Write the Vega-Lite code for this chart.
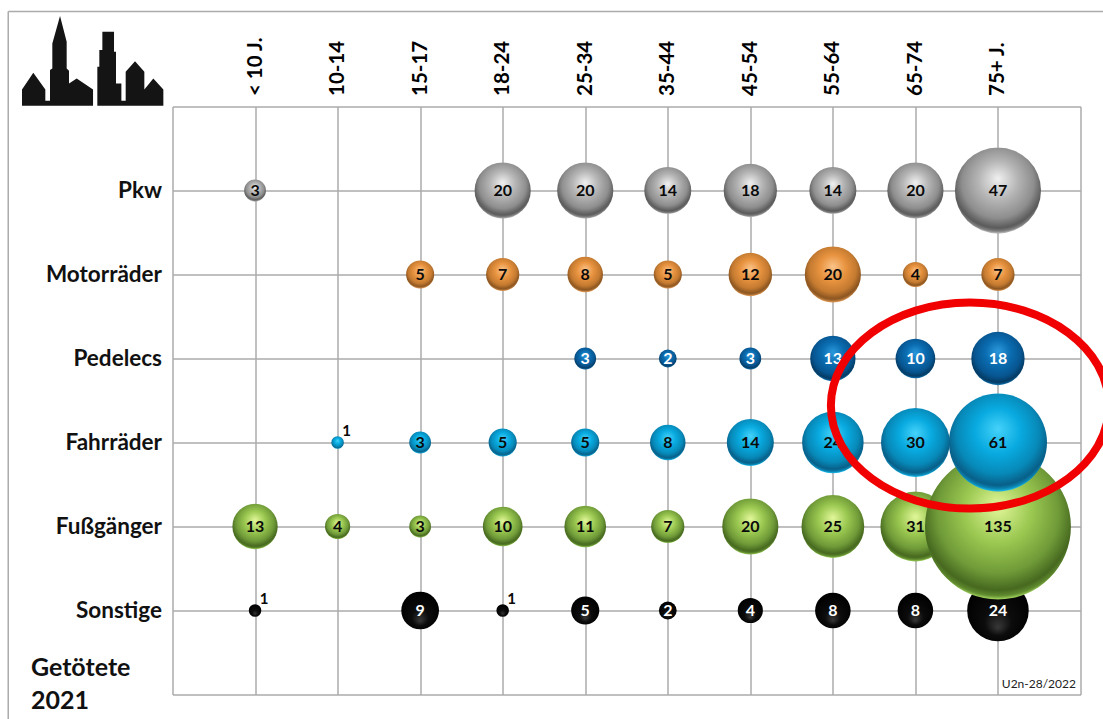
{
"$schema":"https://vega.github.io/schema/vega-lite/v6.json",
"width":908,"height":588,
"autosize":{"type":"none"},
"padding":{"left":172.5,"top":106.5,"right":22.5,"bottom":24.5},
"background":"white",
"view":{"stroke":null},
"config":{"font":"Lato"},
"datasets":{
"rows":[
{"m":"Pkw","a":"< 10 J.","v":3},{"m":"Pkw","a":"18-24","v":20},{"m":"Pkw","a":"25-34","v":20},{"m":"Pkw","a":"35-44","v":14},{"m":"Pkw","a":"45-54","v":18},{"m":"Pkw","a":"55-64","v":14},{"m":"Pkw","a":"65-74","v":20},{"m":"Pkw","a":"75+ J.","v":47},
{"m":"Motorräder","a":"15-17","v":5},{"m":"Motorräder","a":"18-24","v":7},{"m":"Motorräder","a":"25-34","v":8},{"m":"Motorräder","a":"35-44","v":5},{"m":"Motorräder","a":"45-54","v":12},{"m":"Motorräder","a":"55-64","v":20},{"m":"Motorräder","a":"65-74","v":4},{"m":"Motorräder","a":"75+ J.","v":7},
{"m":"Pedelecs","a":"25-34","v":3},{"m":"Pedelecs","a":"35-44","v":2},{"m":"Pedelecs","a":"45-54","v":3},{"m":"Pedelecs","a":"55-64","v":13},{"m":"Pedelecs","a":"65-74","v":10},{"m":"Pedelecs","a":"75+ J.","v":18},
{"m":"Fahrräder","a":"10-14","v":1},{"m":"Fahrräder","a":"15-17","v":3},{"m":"Fahrräder","a":"18-24","v":5},{"m":"Fahrräder","a":"25-34","v":5},{"m":"Fahrräder","a":"35-44","v":8},{"m":"Fahrräder","a":"45-54","v":14},{"m":"Fahrräder","a":"55-64","v":24},{"m":"Fahrräder","a":"65-74","v":30},{"m":"Fahrräder","a":"75+ J.","v":61},
{"m":"Fußgänger","a":"< 10 J.","v":13},{"m":"Fußgänger","a":"10-14","v":4},{"m":"Fußgänger","a":"15-17","v":3},{"m":"Fußgänger","a":"18-24","v":10},{"m":"Fußgänger","a":"25-34","v":11},{"m":"Fußgänger","a":"35-44","v":7},{"m":"Fußgänger","a":"45-54","v":20},{"m":"Fußgänger","a":"55-64","v":25},{"m":"Fußgänger","a":"65-74","v":31},{"m":"Fußgänger","a":"75+ J.","v":135},
{"m":"Sonstige","a":"< 10 J.","v":1},{"m":"Sonstige","a":"15-17","v":9},{"m":"Sonstige","a":"18-24","v":1},{"m":"Sonstige","a":"25-34","v":5},{"m":"Sonstige","a":"35-44","v":2},{"m":"Sonstige","a":"45-54","v":4},{"m":"Sonstige","a":"55-64","v":8},{"m":"Sonstige","a":"65-74","v":8},{"m":"Sonstige","a":"75+ J.","v":24}
],
"notes":[
{"c":-1.715,"r":6.68,"t":"Getötete","k":"big"},
{"c":-1.715,"r":7.08,"t":"2021","k":"big"},
{"c":10.945,"r":6.88,"t":"U2n-28/2022","k":"src"}
]
},
"resolve":{"scale":{"x":"independent","y":"independent"}},
"layer":[
{
"data":{"name":"rows"},
"encoding":{
"x":{"field":"a","type":"ordinal","scale":{"type":"point","padding":0,"domain":[" ","< 10 J.","10-14","15-17","18-24","25-34","35-44","45-54","55-64","65-74","75+ J.","  "]},
"axis":{"orient":"top","title":null,"grid":true,"gridColor":"#ababab","gridWidth":1.5,"gridOpacity":1,"domain":false,"ticks":false,"labelAngle":-90,"labelAlign":"left","labelBaseline":"middle","labelFontSize":20.5,"labelFontWeight":"bold","labelColor":"#000000","labelPadding":11}},
"y":{"field":"m","type":"ordinal","scale":{"type":"point","padding":0,"domain":[" ","Pkw","Motorräder","Pedelecs","Fahrräder","Fußgänger","Sonstige","  "]},
"axis":{"title":null,"grid":true,"gridColor":"#ababab","gridWidth":1.5,"gridOpacity":1,"domain":false,"ticks":false,"labelFontSize":22.5,"labelFontWeight":"bold","labelColor":"#111111","labelPadding":11}},
"size":{"field":"v","type":"quantitative","legend":null,"scale":{"type":"linear","domain":[0,135],"range":[0,21300]}}
},
"layer":[
{"transform":[{"filter":"datum.m==='Sonstige'"}],"mark":{"type":"point","shape":"circle","filled":true,"opacity":1,"strokeWidth":0,"fill":{"gradient":"radial","x1":0.5,"y1":0.78,"r1":0,"x2":0.5,"y2":0.55,"r2":0.55,"stops":[{"offset":0,"color":"#383838"},{"offset":0.4,"color":"#0c0c0c"},{"offset":1,"color":"#000000"}]}}},
{"transform":[{"filter":"datum.m==='Fußgänger'"}],"mark":{"type":"point","shape":"circle","filled":true,"opacity":1,"strokeWidth":0,"fill":{"gradient":"radial","x1":0.5,"y1":0.36,"r1":0,"x2":0.5,"y2":0.42,"r2":0.58,"stops":[{"offset":0,"color":"#e2f79a"},{"offset":0.4,"color":"#9ac850"},{"offset":0.72,"color":"#6f9a38"},{"offset":0.9,"color":"#46681f"},{"offset":0.96,"color":"#5f8a2e"},{"offset":1,"color":"#a8dc62"}]}}},
{"transform":[{"filter":"datum.m==='Fahrräder'"}],"mark":{"type":"point","shape":"circle","filled":true,"opacity":1,"strokeWidth":0,"fill":{"gradient":"radial","x1":0.5,"y1":0.36,"r1":0,"x2":0.5,"y2":0.42,"r2":0.58,"stops":[{"offset":0,"color":"#45d2fa"},{"offset":0.4,"color":"#08aae0"},{"offset":0.72,"color":"#0789b8"},{"offset":0.9,"color":"#085f88"},{"offset":0.96,"color":"#0a86b4"},{"offset":1,"color":"#1cc4f4"}]}}},
{"transform":[{"filter":"datum.m==='Pedelecs'"}],"mark":{"type":"point","shape":"circle","filled":true,"opacity":1,"strokeWidth":0,"fill":{"gradient":"radial","x1":0.5,"y1":0.36,"r1":0,"x2":0.5,"y2":0.42,"r2":0.58,"stops":[{"offset":0,"color":"#2b98dc"},{"offset":0.42,"color":"#0a6cb0"},{"offset":0.75,"color":"#075590"},{"offset":0.92,"color":"#043a62"},{"offset":0.97,"color":"#0a5c92"},{"offset":1,"color":"#1c80c0"}]}}},
{"transform":[{"filter":"datum.m==='Motorräder'"}],"mark":{"type":"point","shape":"circle","filled":true,"opacity":1,"strokeWidth":0,"fill":{"gradient":"radial","x1":0.5,"y1":0.36,"r1":0,"x2":0.5,"y2":0.42,"r2":0.58,"stops":[{"offset":0,"color":"#fbc48a"},{"offset":0.4,"color":"#e8933f"},{"offset":0.72,"color":"#c47a30"},{"offset":0.9,"color":"#8a5420"},{"offset":0.96,"color":"#b87a3c"},{"offset":1,"color":"#f6ad6c"}]}}},
{"transform":[{"filter":"datum.m==='Pkw'"}],"mark":{"type":"point","shape":"circle","filled":true,"opacity":1,"strokeWidth":0,"fill":{"gradient":"radial","x1":0.5,"y1":0.36,"r1":0,"x2":0.5,"y2":0.42,"r2":0.58,"stops":[{"offset":0,"color":"#f0f0f0"},{"offset":0.4,"color":"#b4b4b4"},{"offset":0.72,"color":"#8e8e8e"},{"offset":0.9,"color":"#5a5a5a"},{"offset":0.96,"color":"#808080"},{"offset":1,"color":"#c8c8c8"}]}}},
{"transform":[{"filter":"datum.v>1"}],"mark":{"type":"text","fontSize":16,"fontWeight":"bold","align":"center","baseline":"middle"},
"encoding":{"size":{"value":16},"text":{"field":"v","type":"quantitative"},"color":{"condition":{"test":"datum.m==='Pedelecs'||datum.m==='Sonstige'","value":"#ffffff"},"value":"#0a0a0a"}}},
{"transform":[{"filter":"datum.v===1"}],"mark":{"type":"text","fontWeight":"bold","align":"center","baseline":"middle","dx":9,"dy":-12,"color":"#0a0a0a"},
"encoding":{"size":{"value":15},"text":{"field":"v","type":"quantitative"}}}
]
},
{
"layer":[
{"data":{"values":[{"c":-1.99,"c2":11.3,"r":-1.13}]},"mark":{"type":"rule","color":"#ababab","strokeWidth":1.5},
"encoding":{"x":{"field":"c","type":"quantitative","axis":null,"scale":{"domain":[0,11],"nice":false,"zero":false}},"x2":{"field":"c2"},"y":{"field":"r","type":"quantitative","axis":null,"scale":{"domain":[0,7],"nice":false,"zero":false,"reverse":true}}}},
{"data":{"values":[{"c":-1.99,"r":-1.13,"r2":7.3}]},"mark":{"type":"rule","color":"#ababab","strokeWidth":1.5},
"encoding":{"x":{"field":"c","type":"quantitative","axis":null},"y":{"field":"r","type":"quantitative","axis":null},"y2":{"field":"r2"}}},
{"data":{"values":[{"c":-0.967,"r":-0.54}]},"mark":{"type":"point","filled":true,"opacity":1,"strokeWidth":0,"size":19980,"fill":"#141414",
"shape":"M-1,.401L-.84,.165L-.67,.401L-.67,.561L-.604,.561L-.604,.127L-.571,.104L-.571,-.25L-.462,-.637L-.368,-.274L-.368,.104L-.335,.137L-.335,.316L-.226,.245L.005,.401L.005,.632L-1,.632ZM.066,.632L.066,.08L.094,.08L.094,-.156L.137,-.156L.137,-.415L.302,-.415L.302,-.132L.33,-.132L.33,.316L.406,.316L.406,.561L.467,.561L.467,.151L.599,0L.731,.151L.731,.401L.858,.245L1,.401L1,.632Z"},
"encoding":{"x":{"field":"c","type":"quantitative","axis":null},"y":{"field":"r","type":"quantitative","axis":null}}},
{"data":{"name":"notes"},"transform":[{"filter":"datum.k==='big'"}],"mark":{"type":"text","align":"left","baseline":"middle","fontSize":25,"fontWeight":"bold","color":"#111111"},
"encoding":{"x":{"field":"c","type":"quantitative","axis":null},"y":{"field":"r","type":"quantitative","axis":null},"text":{"field":"t"}}},
{"data":{"name":"notes"},"transform":[{"filter":"datum.k==='src'"}],"mark":{"type":"text","align":"right","baseline":"middle","fontSize":12,"color":"#222222"},
"encoding":{"x":{"field":"c","type":"quantitative","axis":null},"y":{"field":"r","type":"quantitative","axis":null},"text":{"field":"t"}}},
{"data":{"values":[{"c":9.66,"r":3.56}]},"mark":{"type":"point","filled":false,"fill":"transparent","opacity":1,"stroke":"#f00000","strokeWidth":8,"size":77284,
"shape":"M-1,0A1,.741 0 1 1 1,0A1,.741 0 1 1 -1,0Z"},
"encoding":{"x":{"field":"c","type":"quantitative","axis":null},"y":{"field":"r","type":"quantitative","axis":null}}}
]
}
]
}
